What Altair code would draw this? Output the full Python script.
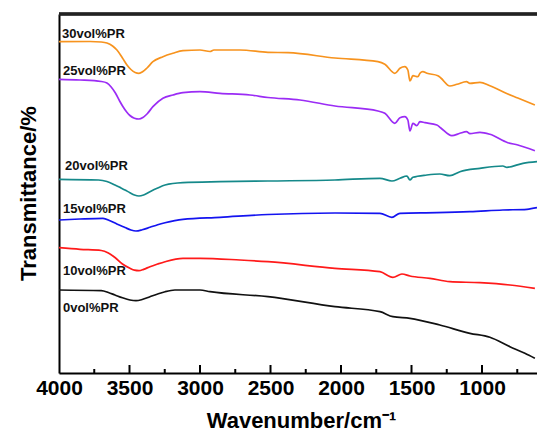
import altair as alt
import pandas as pd

# ---- data (arbitrary transmittance units, offset per curve) ----
series_names = ["30vol%PR", "25vol%PR", "20vol%PR", "15vol%PR", "10vol%PR", "0vol%PR"]
series_colors = ["#F7931E", "#9B2CF5", "#15898A", "#1414F0", "#FF1A1A", "#111111"]

wn_30 = [4000, 3780, 3700, 3660, 3620, 3589, 3550, 3518, 3490, 3460, 3433, 3405, 3376, 3334, 3263, 3192, 3121, 3000, 2929,
         2901, 2717, 2518, 2376, 2043, 1738, 1689, 1618, 1582, 1547, 1526, 1511, 1490, 1455, 1440, 1420, 1390, 1313, 1292,
         1228, 1178, 1110, 1086, 1015, 944, 817, 746, 625]
tr_30 = [331.3, 331.5, 331, 330, 327, 323, 315, 308, 303.5, 300.5, 299.7, 301.5, 305, 311.3, 316.3, 319.7, 322.3, 323, 321.5,
         323, 323, 320.7, 320.3, 315, 311.3, 308.7, 299.7, 304.7, 306.3, 303, 292, 297.3, 296.3, 299.7, 301.3, 299.7, 297.3, 295,
         287, 288.7, 291.3, 289.7, 290.7, 287.3, 279, 275, 268]

wn_25 = [4000, 3851, 3700, 3660, 3630, 3600, 3570, 3546, 3520, 3497, 3465, 3433, 3405, 3376, 3334, 3263, 3192, 3121, 3000,
         2858, 2646, 2518, 2291, 2043, 1738, 1689, 1618, 1582, 1547, 1526, 1511, 1490, 1462, 1440, 1405, 1320, 1292, 1214,
         1157, 1110, 1086, 1015, 944, 817, 746, 625]
tr_25 = [293.7, 293, 291.5, 290, 286, 280, 272, 266.3, 261, 257.5, 254.8, 254, 255.5, 259, 266.3, 274.7, 278, 280.3, 281.3,
         279.7, 278, 275.5, 273, 267, 262, 259.7, 249.7, 255.3, 256.3, 253, 242, 249.7, 247.3, 251.3, 250.3, 248, 245, 237.3,
         239.7, 241.3, 239.3, 240.7, 238.7, 230.3, 228, 222.3]

wn_20 = [4000, 3720, 3660, 3603, 3560, 3532, 3497, 3465, 3433, 3400, 3355, 3300, 3248, 3121, 2858, 2518, 2043, 1724, 1639,
         1582, 1533, 1511, 1490, 1391, 1299, 1228, 1157, 1015, 852, 823, 710, 610]
tr_20 = [193.7, 193, 191.5, 188, 185, 183, 180.3, 178, 177, 178, 181.3, 185, 188, 190.3, 191.3, 192, 193, 194.7, 192,
         194.7, 197, 193, 195.7, 198, 199, 197.3, 201.3, 204.7, 207, 205.7, 209.7, 211.3]

wn_15 = [4000, 3851, 3688, 3638, 3590, 3532, 3490, 3454, 3410, 3355, 3300, 3248, 3121, 2858, 2518, 2043, 1724, 1639, 1582,
         1320, 1086, 852, 681, 610]
tr_15 = [153, 154, 154.7, 152.3, 149, 145.5, 143, 142, 143.2, 145.7, 148.3, 150.3, 153.7, 155.7, 158.5, 160, 159.7, 155.7, 159.7,
         160.3, 161.3, 163, 163.7, 165.3]

wn_10 = [4000, 3851, 3700, 3650, 3603, 3550, 3497, 3465, 3433, 3400, 3355, 3300, 3248, 3121, 3000, 2717, 2518, 2043, 1724,
         1632, 1568, 1511, 1370, 1228, 1015, 802, 625]
tr_10 = [125.3, 123.7, 122.5, 120, 115.5, 109, 104.7, 102.8, 102.3, 103.6, 106.3, 109, 111.3, 114.7, 114.7, 113, 111.3, 104.7,
         101.3, 95.7, 99, 97, 94.7, 91.3, 90.3, 88, 84.7]

wn_0 = [4000, 3700, 3650, 3603, 3550, 3497, 3454, 3410, 3355, 3300, 3248, 3178, 3000, 2929, 2518, 2043, 1724, 1632, 1511,
        1299, 1086, 944, 802, 696, 625]
tr_0 = [83, 82.3, 80.5, 78, 75.2, 73, 72.3, 73.5, 76.3, 79, 81.3, 83, 83, 81.3, 76.3, 66.3, 61.3, 56.3, 54.7, 48, 39.7,
        35.7, 26.3, 19.7, 14.7]

# curve labels (annotation anchor in data units)
label_wn = [3979, 3972, 3957, 3972, 3972, 3972]
label_tr = [335, 298, 203, 160, 98, 61]

major_ticks = [4000, 3500, 3000, 2500, 2000, 1500, 1000]
minor_ticks = [3750, 3250, 2750, 2250, 1750, 1250, 750]

# ---- build tables ----
rows = []
for name, wn, tr in zip(series_names,
                        [wn_30, wn_25, wn_20, wn_15, wn_10, wn_0],
                        [tr_30, tr_25, tr_20, tr_15, tr_10, tr_0]):
    for i, (w, t) in enumerate(zip(wn, tr)):
        rows.append({"series": name, "wn": w, "tr": t, "order": i})
df = pd.DataFrame(rows)
lab_df = pd.DataFrame({"series": series_names, "wn": label_wn, "tr": label_tr})
maj_df = pd.DataFrame({"wn": major_ticks[1:]})
min_df = pd.DataFrame({"wn": minor_ticks})

W, H = 478, 359
FONT = "Arial, Liberation Sans, sans-serif"

xscale = alt.Scale(domain=[610, 4000], reverse=True, nice=False, zero=False)
yscale = alt.Scale(domain=[0, 359], nice=False, zero=False)

xaxis = alt.Axis(values=major_ticks, format="d", tickSize=0, labelPadding=4,
                 labelFont=FONT, labelFontSize=21, labelFontWeight="bold", labelColor="black",
                 labelFlush=False, labelOverlap=False,
                 domainColor="black", domainWidth=2, grid=False,
                 title="Wavenumber/cm\u207b\u00b9", titleFont=FONT, titleFontSize=22,
                 titleFontWeight="bold", titleColor="black", titleBaseline="alphabetic",
                 titleY=54, titleX=242)
yaxis = alt.Axis(labels=False, ticks=False, grid=False, domainColor="black", domainWidth=2,
                 title="Transmittance/%", titleFont=FONT, titleFontSize=22, titleFontWeight="bold",
                 titleColor="black", titleBaseline="alphabetic", titleAngle=-90,
                 titleX=-24, titleY=179, titleAlign="center")
XT = "Wavenumber/cm\u207b\u00b9"
YT = "Transmittance/%"

lines = alt.Chart(df).mark_line(strokeWidth=1.7, clip=True, interpolate="monotone").encode(
    x=alt.X("wn:Q", scale=xscale, axis=xaxis, title=XT),
    y=alt.Y("tr:Q", scale=yscale, axis=yaxis, title=YT),
    color=alt.Color("series:N", scale=alt.Scale(domain=series_names, range=series_colors), legend=None),
    order="order:Q",
)

labels = alt.Chart(lab_df).mark_text(align="left", baseline="alphabetic", font=FONT, fontSize=13,
                                     fontWeight="bold", color="#111111").encode(
    x=alt.X("wn:Q", scale=xscale, axis=xaxis, title=XT),
    y=alt.Y("tr:Q", scale=yscale, axis=yaxis, title=YT),
    text="series:N",
)

maj = alt.Chart(maj_df).mark_rule(color="black", strokeWidth=2).encode(
    x=alt.X("wn:Q", scale=xscale, axis=xaxis, title=XT),
    y=alt.value(H), y2=alt.value(H - 8),
)
mino = alt.Chart(min_df).mark_rule(color="black", strokeWidth=2).encode(
    x=alt.X("wn:Q", scale=xscale, axis=xaxis, title=XT),
    y=alt.value(H), y2=alt.value(H - 4),
)
top = alt.Chart(maj_df).mark_rule(color="#222222", strokeWidth=2.5).encode(
    x=alt.value(0), x2=alt.value(W), y=alt.value(0),
)

chart = alt.layer(lines, labels, maj, mino, top).properties(
    width=W, height=H,
    autosize=alt.AutoSizeParams(type="none"),
    padding={"left": 59, "top": 14, "right": 0, "bottom": 59},
).configure_view(stroke=None).configure(background="white")

chart.save("out.html", embed_options={"renderer": "svg", "actions": False})
